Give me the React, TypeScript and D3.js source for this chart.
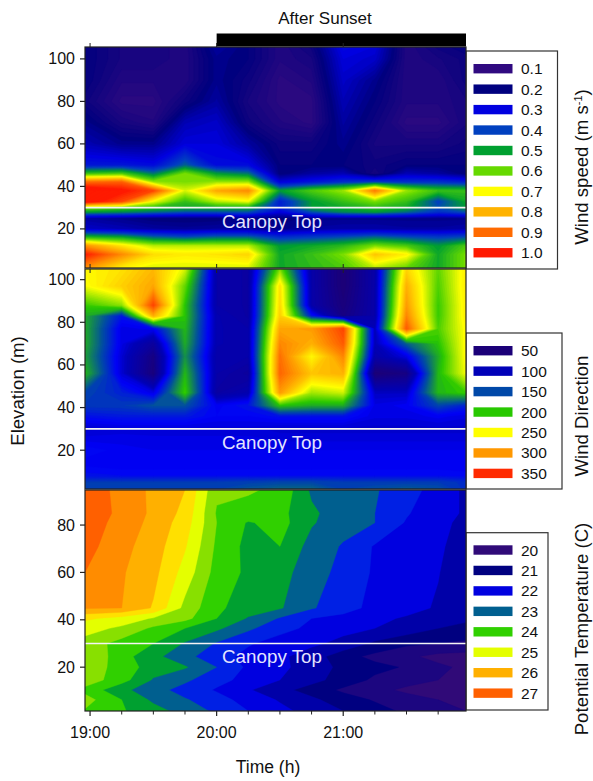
import * as d3 from "d3";

const FONT = "'Liberation Sans', Arial, sans-serif";

// time of each sampled column, minutes after 19:00
const timeColumns = [-2.4, 15, 30, 45, 60, 75, 90, 105, 120, 135, 150, 165, 178.2];
const majorTimes = [0, 60, 120];
const majorLabels = ["19:00", "20:00", "21:00"];
const minorTimes = [15, 30, 45, 75, 90, 105, 135, 150, 165];

// Wind speed
const speedElevations = [1.6, 8, 12, 16, 20, 25, 28, 30, 33, 38, 42, 46, 50, 60, 70, 80, 90, 100, 106];
const speedValues = [
  [0.85, 0.72, 0.68, 0.68, 0.68, 0.68, 0.52, 0.55, 0.58, 0.66, 0.6, 0.52, 0.62],
  [1.0, 0.86, 0.75, 0.73, 0.74, 0.76, 0.52, 0.56, 0.62, 0.78, 0.72, 0.52, 0.62],
  [0.85, 0.74, 0.66, 0.66, 0.66, 0.66, 0.5, 0.52, 0.55, 0.62, 0.58, 0.5, 0.58],
  [0.55, 0.52, 0.45, 0.42, 0.45, 0.45, 0.38, 0.4, 0.42, 0.45, 0.42, 0.4, 0.42],
  [0.28, 0.26, 0.24, 0.23, 0.24, 0.24, 0.22, 0.24, 0.25, 0.25, 0.24, 0.24, 0.25],
  [0.24, 0.22, 0.2, 0.2, 0.2, 0.22, 0.2, 0.22, 0.22, 0.22, 0.22, 0.22, 0.22],
  [0.5, 0.48, 0.45, 0.42, 0.42, 0.42, 0.3, 0.42, 0.48, 0.5, 0.45, 0.38, 0.42],
  [0.62, 0.58, 0.55, 0.52, 0.52, 0.52, 0.35, 0.5, 0.52, 0.55, 0.52, 0.42, 0.5],
  [1.05, 0.95, 0.7, 0.56, 0.66, 0.7, 0.35, 0.5, 0.56, 0.62, 0.56, 0.4, 0.52],
  [1.08, 1.02, 0.95, 0.68, 0.82, 0.86, 0.5, 0.58, 0.64, 0.88, 0.64, 0.56, 0.56],
  [0.9, 0.92, 0.64, 0.62, 0.64, 0.64, 0.3, 0.34, 0.38, 0.4, 0.38, 0.38, 0.36],
  [0.56, 0.58, 0.46, 0.62, 0.5, 0.46, 0.2, 0.24, 0.26, 0.16, 0.26, 0.24, 0.2],
  [0.34, 0.34, 0.32, 0.44, 0.32, 0.32, 0.2, 0.2, 0.2, 0.18, 0.2, 0.2, 0.2],
  [0.26, 0.22, 0.22, 0.3, 0.3, 0.24, 0.18, 0.18, 0.22, 0.16, 0.16, 0.16, 0.18],
  [0.22, 0.16, 0.14, 0.26, 0.28, 0.18, 0.14, 0.12, 0.24, 0.18, 0.12, 0.12, 0.16],
  [0.18, 0.12, 0.12, 0.18, 0.24, 0.16, 0.12, 0.12, 0.26, 0.2, 0.14, 0.14, 0.16],
  [0.2, 0.14, 0.14, 0.14, 0.22, 0.18, 0.12, 0.14, 0.28, 0.22, 0.14, 0.14, 0.18],
  [0.2, 0.16, 0.16, 0.14, 0.22, 0.2, 0.14, 0.16, 0.3, 0.28, 0.14, 0.16, 0.18],
  [0.2, 0.16, 0.16, 0.14, 0.24, 0.2, 0.14, 0.18, 0.32, 0.3, 0.14, 0.18, 0.2],
];
const speedLevels = [0.1, 0.2, 0.3, 0.4, 0.5, 0.6, 0.7, 0.8, 0.9, 1.0];
const speedLabels = ["0.1", "0.2", "0.3", "0.4", "0.5", "0.6", "0.7", "0.8", "0.9", "1.0"];
const speedColors = ["#300a80", "#00007f", "#0000e0", "#0040c0", "#00a030", "#66d900", "#ffff00", "#ffb300", "#ff6a00", "#ff1a00"];

// Wind direction
const dirElevations = [1.5, 5, 8, 14, 20, 30, 36, 41, 47, 56, 64, 70, 77, 83, 88, 97, 106];
const dirValues = [
  [148, 148, 150, 150, 150, 158, 165, 165, 150, 155, 160, 155, 140],
  [146, 146, 146, 146, 146, 148, 150, 150, 146, 146, 146, 146, 140],
  [128, 126, 126, 126, 126, 126, 126, 126, 126, 126, 126, 126, 124],
  [120, 118, 118, 118, 118, 118, 118, 118, 118, 118, 118, 118, 118],
  [125, 120, 118, 118, 118, 118, 118, 118, 118, 118, 118, 118, 118],
  [108, 112, 112, 112, 112, 112, 108, 108, 108, 108, 108, 108, 108],
  [128, 132, 132, 132, 122, 122, 128, 128, 128, 115, 115, 120, 115],
  [145, 145, 155, 155, 120, 130, 200, 190, 190, 115, 120, 150, 135],
  [150, 135, 115, 205, 85, 95, 300, 230, 240, 105, 105, 195, 205],
  [195, 110, 55, 195, 90, 80, 325, 280, 290, 50, 60, 195, 250],
  [185, 110, 60, 180, 90, 90, 320, 255, 310, 90, 115, 190, 255],
  [190, 115, 80, 190, 95, 90, 310, 290, 330, 100, 160, 200, 255],
  [190, 115, 120, 195, 95, 90, 295, 300, 340, 100, 330, 210, 255],
  [190, 130, 290, 200, 95, 85, 275, 130, 60, 90, 310, 205, 260],
  [205, 225, 340, 200, 90, 85, 270, 90, 55, 90, 300, 205, 260],
  [250, 275, 295, 215, 90, 85, 265, 90, 50, 90, 290, 210, 262],
  [255, 265, 285, 245, 90, 85, 215, 90, 50, 90, 270, 215, 260],
];
const dirLevels = [50, 100, 150, 200, 250, 300, 350];
const dirLabels = ["50", "100", "150", "200", "250", "300", "350"];
const dirColors = ["#1b0078", "#0000b8", "#0048a8", "#28c800", "#ffff00", "#ff9800", "#ff2a00"];

// Potential temperature
const tempElevations = [1.5, 6.2, 10.4, 14.6, 20, 24.5, 30, 36.4, 40.6, 45, 60, 71, 81, 85, 95];
const tempValues = [
  [24.45, 24.05, 23.7, 23.3, 22.9, 22.5, 22.15, 21.8, 21.5, 21.2, 20.9, 20.7, 20.5],
  [24.7, 24.0, 23.4, 23.05, 22.7, 22.3, 21.95, 21.6, 21.25, 20.95, 20.7, 20.5, 20.3],
  [24.35, 23.63, 23.2, 22.8, 22.45, 22.05, 21.65, 21.3, 20.9, 20.65, 20.4, 20.3, 20.0],
  [24.8, 24.2, 23.45, 23.1, 22.65, 22.35, 22.0, 21.65, 21.3, 20.9, 20.7, 20.5, 20.3],
  [24.8, 24.3, 23.75, 23.55, 23.0, 22.4, 22.1, 21.8, 21.35, 21.15, 20.95, 20.6, 20.4],
  [25.0, 24.2, 23.65, 23.15, 22.7, 22.35, 22.1, 21.75, 21.2, 20.85, 20.6, 20.35, 20.3],
  [24.8, 24.3, 24.0, 23.45, 22.95, 22.55, 22.3, 22.1, 21.85, 21.4, 21.1, 21.0, 20.9],
  [25.2, 24.9, 24.4, 24.0, 23.6, 23.1, 22.65, 22.4, 22.15, 22.0, 21.8, 21.5, 21.35],
  [25.6, 25.3, 24.95, 24.65, 24.0, 23.45, 22.95, 22.5, 22.35, 22.1, 21.95, 21.8, 21.6],
  [26.55, 26.5, 25.95, 24.85, 24.1, 23.75, 23.55, 23.05, 22.7, 22.35, 22.15, 21.95, 21.75],
  [27.0, 26.55, 26.15, 25.3, 24.3, 23.9, 23.6, 23.35, 22.75, 22.45, 22.25, 22.02, 21.7],
  [27.2, 26.65, 26.25, 25.55, 24.4, 23.85, 24.0, 23.3, 22.95, 22.45, 22.25, 22.05, 21.85],
  [27.3, 26.8, 26.35, 25.75, 24.5, 23.95, 24.2, 23.55, 23.2, 23.0, 22.45, 22.1, 21.9],
  [27.4, 26.85, 26.4, 25.85, 24.45, 24.35, 24.15, 23.6, 23.2, 23.0, 22.55, 22.15, 21.95],
  [27.4, 26.8, 26.4, 26.0, 24.6, 24.55, 24.42, 23.4, 23.2, 23.05, 22.7, 22.3, 21.9],
];
const tempBands = [15, 20.5, 21, 21.5, 22, 22.5, 23, 23.5, 24, 24.5, 25, 25.5, 26, 26.5, 27];
const tempBandColors = ["#300a78", "#1c0680", "#000080", "#0000a8", "#0000e0", "#0020e4", "#005f8f", "#00a030", "#30d000", "#88e000", "#e4ff00", "#ffe000", "#ffb000", "#ff8c00", "#ff6000"];
const tempLabels = ["20", "21", "22", "23", "24", "25", "26", "27"];
const tempLegendColors = ["#300a78", "#000080", "#0000e0", "#005f8f", "#30d000", "#e4ff00", "#ffb000", "#ff6000"];

const CANOPY = 30;

const x = d3.scaleLinear().domain([-2.4, 178.2]).range([85, 466]);
const speedY = d3.scaleLinear().domain([1.6, 105.6]).range([268, 47]);
const dirY = d3.scaleLinear().domain([1.8, 105]).range([489, 269]);
const tempY = d3.scaleLinear().domain([1.5, 94.8]).range([711, 490]);

const speedTicks = [20, 40, 60, 80, 100];
const dirTicks = [20, 40, 60, 80, 100];
const tempTicks = [20, 40, 60, 80];

type Band = { threshold: number; color: string };

// d3.contours works on grid indices; the elevations and times are uneven so map them back here
function contourPaths(values: number[][], elevations: number[], y: d3.ScaleLinear<number, number>, bands: Band[]) {
  const nRows = values.length;
  const nCols = values[0].length;
  const colX = d3.scaleLinear().domain(d3.range(nCols)).range(timeColumns.map((t) => x(t))).clamp(true);
  const rowY = d3.scaleLinear().domain(d3.range(nRows)).range(elevations.map((e) => y(e))).clamp(true);
  const path = d3.geoPath(
    d3.geoTransform({
      point(px, py) {
        this.stream.point(colX(px - 0.5), rowY(py - 0.5));
      },
    })
  );
  const gen = d3.contours().size([nCols, nRows]).smooth(true);
  const flat = values.flat();
  return bands.map((b) => ({ d: path(gen.contour(flat, b.threshold)) || "", color: b.color }));
}

function smoothBands(stops: number[], stopColors: string[], lo: number, hi: number, step: number): Band[] {
  const ramp = d3.scaleLinear<string>().domain(stops).range(stopColors).interpolate(d3.interpolateRgb).clamp(true);
  return [lo - 1000, ...d3.range(lo, hi, step)].map((t) => ({ threshold: t, color: ramp(Math.max(t, lo)) }));
}

const speedBands = smoothBands(speedLevels, speedColors, 0.1, 1.1, 0.0125);
const dirBands = smoothBands(
  [50, 100, 120, 150, 200, 250, 300, 350],
  ["#1b0078", "#0000b8", "#0000f8", "#0048a8", "#28c800", "#ffff00", "#ff9800", "#ff2a00"],
  50,
  345,
  4
);
const tempBandList: Band[] = tempBands.map((t, i) => ({ threshold: t, color: tempBandColors[i] }));

function Panel({ id, values, elevations, y, bands, ticks }: { id: string; values: number[][]; elevations: number[]; y: d3.ScaleLinear<number, number>; bands: Band[]; ticks: number[] }) {
  const [y0, y1] = y.range();
  const paths = contourPaths(values, elevations, y, bands);
  return (
    <g>
      <clipPath id={id}>
        <rect x={85} y={y1} width={381} height={y0 - y1} />
      </clipPath>
      <g clipPath={`url(#${id})`}>
        {paths.map((p, i) => (
          <path key={i} d={p.d} fill={p.color} stroke={p.color} strokeWidth={0.4} />
        ))}
        <line x1={85} x2={466} y1={y(CANOPY)} y2={y(CANOPY)} stroke="#f4f4f4" strokeWidth={1.6} />
      </g>
      <text x={272} y={y(CANOPY) + 20} textAnchor="middle" fontSize={18.8} fill="#e4e4ff" fontFamily={FONT}>
        Canopy Top
      </text>
      <rect x={85} y={y1} width={381} height={y0 - y1} fill="none" stroke="#222" strokeWidth={1.2} />
      {ticks.map((t) => (
        <g key={t}>
          <line x1={80} x2={85} y1={y(t)} y2={y(t)} stroke="#222" strokeWidth={1.2} />
          <text x={75} y={y(t) + 5.5} textAnchor="end" fontSize={16} fill="#111" fontFamily={FONT}>
            {t}
          </text>
        </g>
      ))}
    </g>
  );
}

function Legend({ top, bottom, right, labels, colors, firstRow }: { top: number; bottom: number; right: number; labels: string[]; colors: string[]; firstRow: number }) {
  return (
    <g>
      <rect x={466} y={top} width={right - 466} height={bottom - top} fill="#fff" stroke="#333" strokeWidth={1.2} />
      {labels.map((l, i) => {
        const cy = firstRow + i * 20.45;
        return (
          <g key={l}>
            <rect x={473.5} y={cy - 4.7} width={39} height={9.4} fill={colors[i]} />
            <text x={521} y={cy + 5.5} fontSize={15.5} fill="#111" fontFamily={FONT}>
              {l}
            </text>
          </g>
        );
      })}
    </g>
  );
}

function SideLabel({ cx, cy, children }: { cx: number; cy: number; children: React.ReactNode }) {
  return (
    <text transform={`translate(${cx},${cy}) rotate(-90)`} textAnchor="middle" fontSize={18.6} fill="#111" fontFamily={FONT}>
      {children}
    </text>
  );
}

export default function App() {
  return (
    <svg width={593} height={781} style={{ position: "absolute", left: 0, top: 0, background: "#fff" }}>
      <text x={325} y={24} textAnchor="middle" fontSize={17} fill="#111" fontFamily={FONT}>
        After Sunset
      </text>
      <rect x={x(60)} y={33.5} width={466 - x(60)} height={13} fill="#000" />

      <Legend top={51} bottom={269} right={557.5} labels={speedLabels} colors={speedColors} firstRow={68.7} />
      <Legend top={333} bottom={489} right={562} labels={dirLabels} colors={dirColors} firstRow={350.7} />
      <Legend top={532.7} bottom={710} right={548} labels={tempLabels} colors={tempLegendColors} firstRow={550} />

      <Panel id="speed" values={speedValues} elevations={speedElevations} y={speedY} bands={speedBands} ticks={speedTicks} />
      <Panel id="dir" values={dirValues} elevations={dirElevations} y={dirY} bands={dirBands} ticks={dirTicks} />
      <Panel id="temp" values={tempValues} elevations={tempElevations} y={tempY} bands={tempBandList} ticks={tempTicks} />

      {/* top ticks on the first two panels */}
      {majorTimes.map((t) => (
        <g key={t}>
          <line x1={x(t)} x2={x(t)} y1={43} y2={47} stroke="#222" />
          <line x1={x(t)} x2={x(t)} y1={264} y2={268} stroke="#222" />
          <line x1={x(t)} x2={x(t)} y1={269} y2={273} stroke="#222" />
        </g>
      ))}

      {majorTimes.map((t, i) => (
        <g key={t}>
          <line x1={x(t)} x2={x(t)} y1={711} y2={716} stroke="#222" strokeWidth={1.2} />
          <text x={x(t)} y={738} textAnchor="middle" fontSize={16} fill="#111" fontFamily={FONT}>
            {majorLabels[i]}
          </text>
        </g>
      ))}
      {minorTimes.map((t) => (
        <line key={t} x1={x(t)} x2={x(t)} y1={711} y2={714.5} stroke="#222" />
      ))}

      <text x={268} y={773} textAnchor="middle" fontSize={17.5} fill="#111" fontFamily={FONT}>
        Time (h)
      </text>
      <SideLabel cx={24} cy={391}>
        Elevation (m)
      </SideLabel>
      <SideLabel cx={588} cy={167}>
        Wind speed (m s<tspan dy={-6} fontSize={11}>-1</tspan><tspan dy={6}>)</tspan>
      </SideLabel>
      <SideLabel cx={588} cy={416}>
        Wind Direction
      </SideLabel>
      <SideLabel cx={588} cy={629}>
        Potential Temperature (C)
      </SideLabel>
    </svg>
  );
}
